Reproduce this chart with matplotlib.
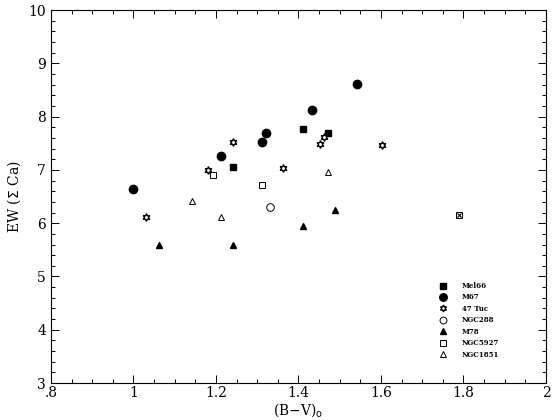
import numpy as np
import matplotlib
matplotlib.use("Agg")
import matplotlib.pyplot as plt
from matplotlib.ticker import MultipleLocator, FuncFormatter

# values
mel66_bv = [1.242, 1.412, 1.472]
mel66_ew = [7.05, 7.77, 7.69]
m67_bv = [1.00, 1.211, 1.311, 1.322, 1.432, 1.542]
m67_ew = [6.64, 7.27, 7.53, 7.70, 8.12, 8.62]
tuc47_bv = [1.030, 1.181, 1.242, 1.362, 1.452, 1.462, 1.602]
tuc47_ew = [6.11, 7.00, 7.53, 7.04, 7.48, 7.61, 7.46]
ngc288_bv = [1.331]
ngc288_ew = [6.31]
m78_bv = [1.061, 1.242, 1.412, 1.489]
m78_ew = [5.60, 5.60, 5.95, 6.25]
ngc5927_bv = [1.192, 1.311, 1.790]
ngc5927_ew = [6.90, 6.72, 6.15]
ngc1851_bv = [1.141, 1.212, 1.472]
ngc1851_ew = [6.42, 6.12, 6.96]
# the overprinted square near (1.79, 6.15)
cross_bv = [1.790]
cross_ew = [6.15]

plt.rcParams['font.family'] = ['DejaVu Serif']

fig = plt.figure(figsize=(5.6, 4.2), dpi=100)
ax = fig.add_axes([0.091, 0.088, 0.884, 0.888])

star6 = (6, 1, 0)
ax.plot(mel66_bv, mel66_ew, 's', color='k', ms=4.5, label='Mel66')
ax.plot(m67_bv, m67_ew, 'o', color='k', ms=6, label='M67')
ax.plot(tuc47_bv, tuc47_ew, marker=star6, ls='none', mfc='white', mec='k', mew=1.0, ms=5.5, label='47 Tuc')
ax.plot(ngc288_bv, ngc288_ew, 'o', mfc='white', mec='k', mew=0.7, ms=5.5, label='NGC288')
ax.plot(m78_bv, m78_ew, '^', color='k', ms=5, label='M78')
ax.plot(ngc5927_bv, ngc5927_ew, 's', mfc='white', mec='k', mew=0.7, ms=4.5, label='NGC5927')
ax.plot(ngc1851_bv, ngc1851_ew, '^', mfc='white', mec='k', mew=0.7, ms=5, label='NGC1851')
ax.plot(cross_bv, cross_ew, 'x', color='k', ms=3.5, mew=0.8)

ax.set_xlim(0.8, 2.0)
ax.set_ylim(3, 10)
ax.xaxis.set_major_locator(MultipleLocator(0.2))
ax.xaxis.set_minor_locator(MultipleLocator(0.05))
ax.yaxis.set_major_locator(MultipleLocator(1))
ax.yaxis.set_minor_locator(MultipleLocator(0.2))


def fmt(v, pos):
    s = ('%.1f' % v).rstrip('0').rstrip('.')
    if s.startswith('0'):
        s = s[1:]
    return s


ax.xaxis.set_major_formatter(FuncFormatter(fmt))
ax.tick_params(which='both', direction='in', top=True, right=True, labelsize=10, width=0.7)
ax.tick_params(which='major', length=6)
ax.tick_params(which='minor', length=3)
ax.tick_params(axis='x', pad=2)
for sp in ax.spines.values():
    sp.set_linewidth(0.8)

ax.set_xlabel(r'(B$-$V)$_{\rm o}$', fontsize=10, labelpad=1)
ax.set_ylabel(r'EW ($\Sigma$ Ca)', fontsize=10)

ax.legend(loc='lower left', bbox_to_anchor=(0.777, 0.065), frameon=False,
          borderpad=0, borderaxespad=0,
          prop={'family': 'DejaVu Serif', 'size': 5, 'weight': 'bold'},
          handlelength=2.2, handletextpad=1.6, labelspacing=0.5, numpoints=1, markerscale=0.9)

fig.savefig('out.png', dpi=100)
